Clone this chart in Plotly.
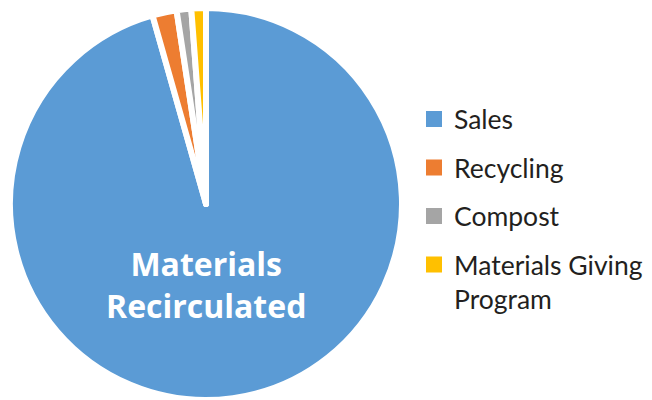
import plotly.graph_objects as go

# Data
categories = ["Sales", "Recycling", "Compost", "Materials Giving<br>Program"]
values = [95.6, 2.0, 1.2, 1.2]
colors = ["#5B9BD5", "#ED7D31", "#A5A5A5", "#FFC000"]
center_label = "Materials<br>Recirculated"

# The page body adds an 8px margin, so the figure is 8px smaller than the window
OFF = 8
W, H = 652 - OFF, 400 - OFF
cx, cy, r = 206 - OFF, 204 - OFF, 196  # pie centre / radius in figure px

fig = go.Figure()

fig.add_trace(go.Pie(
    labels=categories,
    values=values,
    sort=False,
    direction="clockwise",
    rotation=0,
    textinfo="none",
    hoverinfo="label+value",
    showlegend=False,
    marker=dict(colors=colors, line=dict(color="white", width=6)),
    domain=dict(x=[(cx - r) / W, (cx + r) / W],
                y=[max(0, (H - cy - r) / H), min(1, (H - cy + r) / H)]),
))

# Legend entries (square swatches)
for i, (lab, col) in enumerate(zip(categories, colors)):
    fig.add_trace(go.Scatter(
        x=[None], y=[None], mode="markers", name=lab,
        legendgroup=f"g{i}",
        marker=dict(symbol="square", size=16, color=col),
    ))

fig.add_annotation(
    x=cx / W, y=1 - (284 - OFF) / H, xref="paper", yref="paper",
    text=center_label, showarrow=False, xanchor="center", yanchor="middle",
    font=dict(family="Open Sans", size=32, color="white", weight="bold"),
)

fig.update_layout(
    width=W, height=H,
    margin=dict(l=0, r=0, t=0, b=0, autoexpand=False),
    paper_bgcolor="white", plot_bgcolor="white",
    xaxis=dict(visible=False), yaxis=dict(visible=False),
    legend=dict(
        x=(414 - OFF) / W, y=1 - (95.3 - OFF) / H, xanchor="left", yanchor="top",
        font=dict(family="Lato", size=26.5, color="#231F20"),
        tracegroupgap=11, valign="top",
        bgcolor="rgba(0,0,0,0)",
    ),
)

fig.write_html("out.html")
